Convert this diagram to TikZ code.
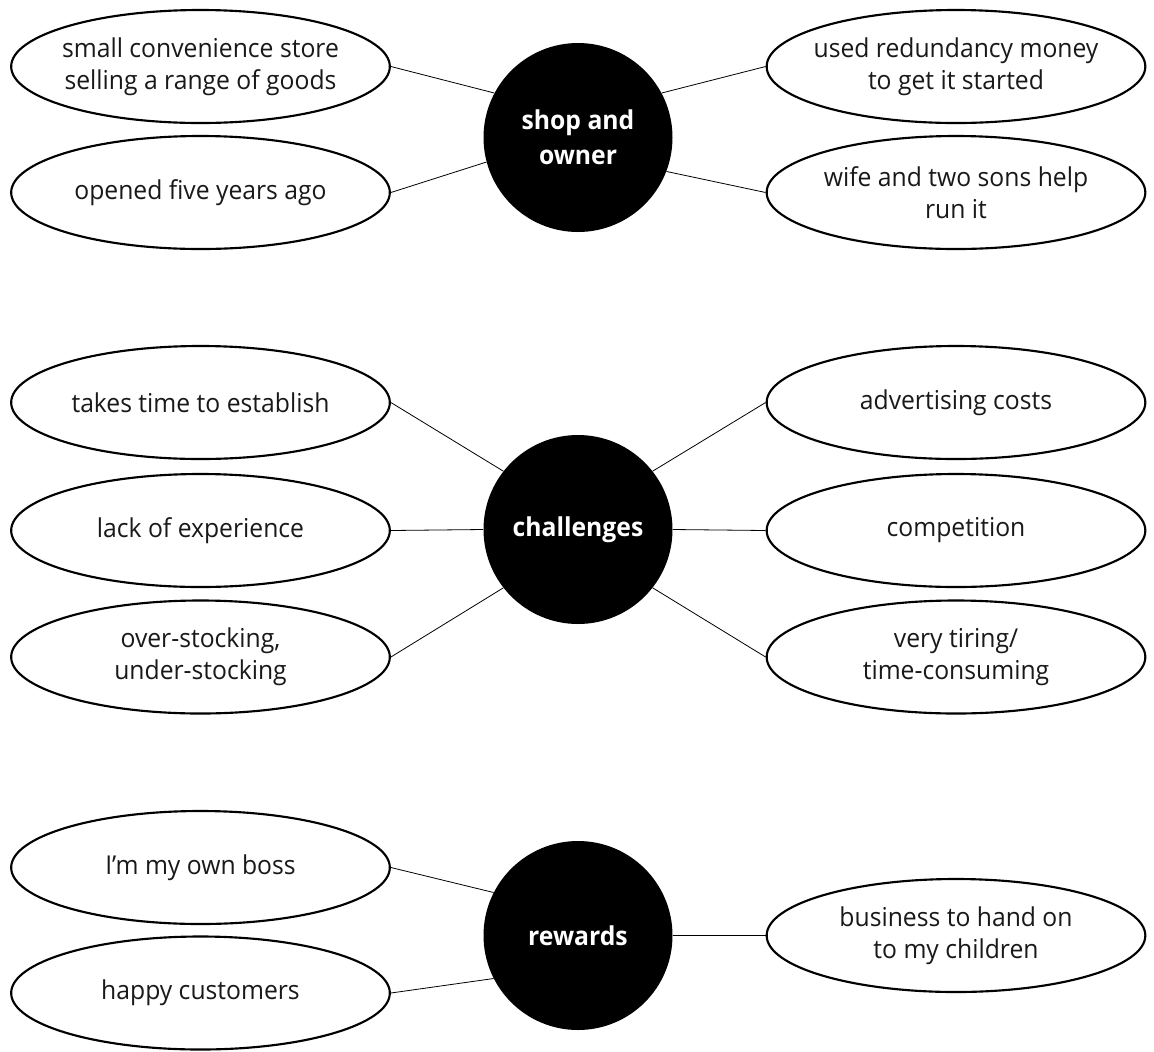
\documentclass[tikz,border=0pt]{standalone}
\usepackage{fontspec}
\setmainfont[FakeStretch=0.95]{Open Sans}
\usetikzlibrary{shapes.geometric}
\begin{document}
\begin{tikzpicture}[x=0.75pt,y=-0.75pt,
  leaf/.style={ellipse, draw=black, fill=white, line width=1.6pt, minimum width=284pt, minimum height=84.75pt, inner sep=0pt},
  lbl/.style={align=center, font=\fontsize{19.5}{24}\selectfont, text=black!90, inner sep=0pt},
  hub/.style={circle, fill=black, minimum size=141.75pt, inner sep=0pt, text=white, align=center, font=\bfseries\fontsize{19.5}{26}\selectfont},
  link/.style={line width=0.6pt}]
\useasboundingbox (0,0) rectangle (1154,1051);

% hubs
\node[hub] (shop) at (578,137.5) {shop and\\owner};
\node[hub] (chal) at (578,529.5) {challenges};
\node[hub] (rew) at (578,935.5) {rewards};

% shop and owner
\node[leaf] (a1) at (200.5,66.5) {};
\node[lbl] at (a1) {small convenience store\\selling a range of goods};
\node[leaf] (a2) at (200.5,192.5) {};
\node[lbl] at (a2) {opened five years ago};
\node[leaf] (a3) at (956,66.5) {};
\node[lbl] at (a3) {used redundancy money\\to get it started};
\node[leaf] (a4) at (956,192.5) {};
\node[lbl] at (a4) {wife and two sons help\\run it};

% challenges
\node[leaf] (b1) at (200.5,402.5) {};
\node[lbl] at (b1) {takes time to establish};
\node[leaf] (b2) at (200.5,530.5) {};
\node[lbl] at (b2) {lack of experience};
\node[leaf] (b3) at (200.5,657) {};
\node[lbl] at (b3) {over-stocking,\\under-stocking};
\node[leaf] (b4) at (956,402.5) {};
\node[lbl] at (b4) {advertising costs};
\node[leaf] (b5) at (956,530.5) {};
\node[lbl] at (b5) {competition};
\node[leaf] (b6) at (956,657) {};
\node[lbl] at (b6) {very tiring/\\time-consuming};

% rewards
\node[leaf] (c1) at (200.5,867.5) {};
\node[lbl] at (c1) {I’m my own boss};
\node[leaf] (c2) at (200.5,993) {};
\node[lbl] at (c2) {happy customers};
\node[leaf] (c3) at (956,935.5) {};
\node[lbl] at (c3) {business to hand on\\to my children};

% connectors
\draw[link] (a1.east) -- (shop.152);
\draw[link] (a2.east) -- (shop.195);
\draw[link] (a3.west) -- (shop.28);
\draw[link] (a4.west) -- (shop.-21);
\draw[link] (b1.east) -- (chal.142);
\draw[link] (b2.east) -- (chal.180);
\draw[link] (b3.east) -- (chal.218);
\draw[link] (b4.west) -- (chal.38);
\draw[link] (b5.west) -- (chal.0);
\draw[link] (b6.west) -- (chal.-38);
\draw[link] (c1.east) -- (rew.153);
\draw[link] (c2.east) -- (rew.207);
\draw[link] (c3.west) -- (rew.0);
\end{tikzpicture}
\end{document}
